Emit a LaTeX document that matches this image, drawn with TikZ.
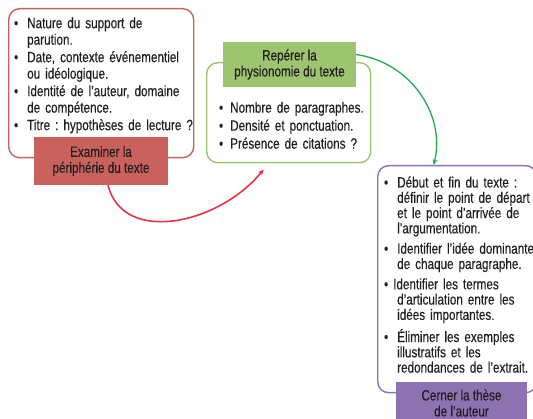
\documentclass[tikz,border=0pt]{standalone}
\usepackage{fontspec}
\setmainfont{Liberation Sans}[FakeStretch=0.78,FakeBold=0.35]
\usepackage{enumitem}
\usetikzlibrary{arrows.meta}
\definecolor{cadrerouge}{HTML}{C9625C}
\definecolor{cadrevert}{HTML}{9DC56F}
\definecolor{cadreviolet}{HTML}{8C72B1}
\definecolor{flecherouge}{HTML}{E8334A}
\definecolor{flecheverte}{HTML}{1DAE4B}
\definecolor{encre}{HTML}{231F20}
\frenchspacing
\begin{document}
\begin{tikzpicture}
[x=1pt,y=-1pt,
  framedecorate/.style={shape=rectangle,rounded corners=11pt,line width=1.4pt,
    anchor=north west,inner sep=0pt},%
  labeldecorate/.style={shape=rectangle,inner sep=0pt,align=center,text=encre,
    font=\fontsize{15}{16}\selectfont},%
  listdecorate/.style={anchor=north west,inner sep=0pt,text=encre,align=left},%
  linedecorate/.style={-{Stealth[length=6pt,width=5pt]},line width=1.6pt}]
\useasboundingbox (0,0) rectangle (533,419);
%% frames
\foreach \framename/\x/\y/\w/\h/\col in {periph/8/8/185/149/cadrerouge,
    physio/206/62/164/100/cadrevert, these/377/165/159/227/cadreviolet} {
  \node (\framename) at (\x,\y) [framedecorate,draw=\col,
    minimum width=\w,minimum height=\h] {};
}
%% lists
\node (periphlist) at (11,11.5) [listdecorate,text width=185pt,
  font=\fontsize{15}{16.5}\selectfont] {%
  \begin{itemize}[label=\textbullet,leftmargin=16pt,labelsep=9pt,
      topsep=0pt,partopsep=0pt,parsep=0pt,itemsep=1pt]
  \item Nature du support de\\parution.
  \item Date, contexte événementiel\\ou idéologique.
  \item Identité de l'auteur, domaine\\de compétence.
  \item Titre : hypothèses de lecture ?
  \end{itemize}};
\node (physiolist) at (215,97) [listdecorate,text width=160pt,
  font=\fontsize{15}{15.5}\selectfont] {%
  \begin{itemize}[label=\textbullet,leftmargin=15pt,labelsep=7pt,
      topsep=0pt,partopsep=0pt,parsep=0pt,itemsep=2.5pt]
  \item Nombre de paragraphes.
  \item Densité et ponctuation.
  \item Présence de citations ?
  \end{itemize}};
\node (theselist) at (380,172) [listdecorate,text width=160pt,
  font=\fontsize{15}{15.3}\selectfont] {%
  \begin{itemize}[label=\textbullet,leftmargin=17pt,labelsep=9pt,
      topsep=0pt,partopsep=0pt,parsep=0pt,itemsep=5pt]
  \item Début et fin du texte :\\définir le point de départ\\et le point d'arrivée de\\l'argumentation.
  \item Identifier l'idée dominante\\de chaque paragraphe.
  \item \hspace{-4pt}Identifier les termes\\d'articulation entre les\\idées importantes.
  \item Éliminer les exemples\\illustratifs et les\\redondances de l'extrait.
  \end{itemize}};
%% labels
\foreach \labelname/\x/\y/\w/\h/\col/\txt in {periphlabel/101/161/134/48/cadrerouge/{Examiner la\\périphérie du texte},
    physiolabel/289.5/64.5/133/45/cadrevert/{Repérer la\\physionomie du texte},
    theselabel/461.5/403/131/42/cadreviolet/{Cerner la thèse\\de l'auteur}} {
  \node (\labelname) at (\x,\y) [labeldecorate,fill=\col,
    minimum width=\w,minimum height=\h] {\txt};
}
%% arrows
\draw[linedecorate,flecherouge] ([xshift=7pt]periphlabel.south)
  .. controls +(15,60) and +(-45,55) .. ([xshift=-25pt,yshift=-6pt]physio.south);
\draw[linedecorate,flecheverte,line width=1.3pt] ([yshift=10pt]physiolabel.east)
  .. controls +(55,8) and +(12,-50) .. ([xshift=-23.5pt]these.north);
\end{tikzpicture}
\end{document}
